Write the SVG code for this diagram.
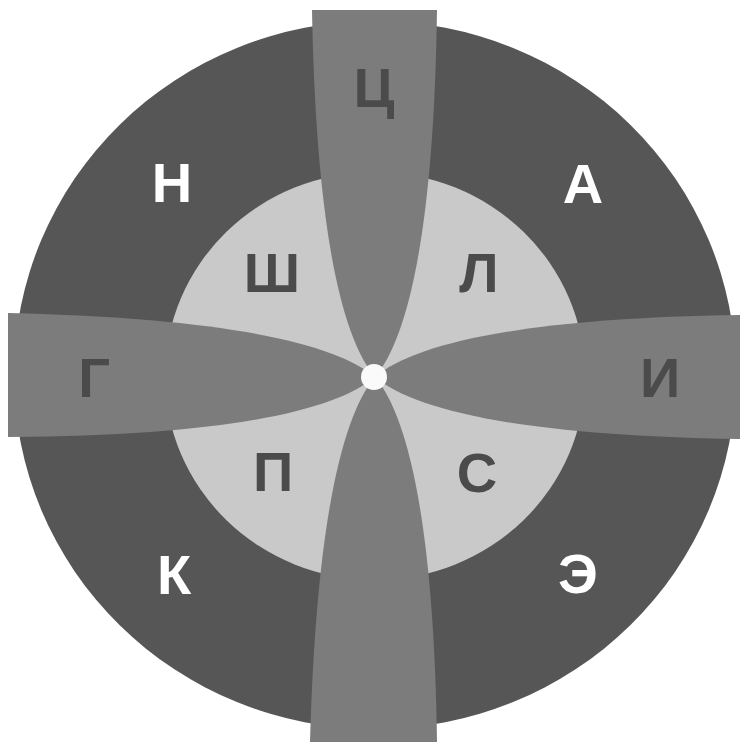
<svg xmlns="http://www.w3.org/2000/svg" width="750" height="750" viewBox="0 0 750 750">
<style>
.lbl{font-family:"Liberation Sans",Arial,sans-serif;font-weight:bold;font-size:56px;text-anchor:middle}
.dk{fill:#4b4b4b}
.wt{fill:#ffffff}
.band{fill:#7c7c7c}
</style>
<rect width="750" height="750" fill="#ffffff"/>
<g id="outer-ring"><ellipse cx="375" cy="375" rx="361" ry="354" fill="#565656"/></g>
<g id="inner-disc"><ellipse cx="375" cy="376" rx="210" ry="204" fill="#c9c9c9"/></g>
<g id="bands">
<path id="band-top" class="band" d="M375,377 C342,338 316,230 312,10 L437,10 C434,230 408,338 375,377 Z"/>
<path id="band-bottom" class="band" d="M375,377 C342,416 316,524 310,742 L437,742 C434,524 408,416 375,377 Z"/>
<path id="band-left" class="band" d="M375,377 C336,410 228,436 8,437 L8,313 C228,318 336,344 375,377 Z"/>
<path id="band-right" class="band" d="M375,377 C414,344 522,318 740,315 L740,439 C522,436 414,410 375,377 Z"/>
</g>
<g id="center"><circle cx="374" cy="377" r="13" fill="#fafafa"/></g>
<g id="labels">
<text id="t-ts" class="lbl dk" x="374" y="107">Ц</text>
<text id="t-n" class="lbl wt" x="172" y="202">Н</text>
<text id="t-a" class="lbl wt" x="583" y="203">А</text>
<text id="t-sh" class="lbl dk" x="272" y="292">Ш</text>
<text id="t-l" class="lbl dk" x="479" y="292">Л</text>
<text id="t-g" class="lbl dk" x="94" y="397">Г</text>
<text id="t-i" class="lbl dk" x="660" y="397">И</text>
<text id="t-p" class="lbl dk" x="273" y="491">П</text>
<text id="t-s" class="lbl dk" x="477" y="492">С</text>
<text id="t-k" class="lbl wt" x="174" y="594">К</text>
<text id="t-e" class="lbl wt" x="578" y="593">Э</text>
</g>
</svg>
